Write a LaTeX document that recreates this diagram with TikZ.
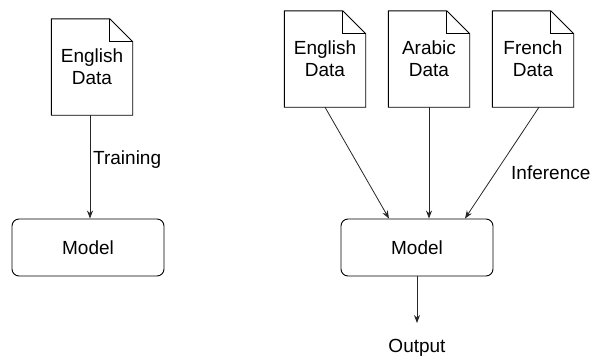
\documentclass[tikz,border=0pt]{standalone}
\usepackage{fontspec}
\setmainfont{Liberation Sans}
\usetikzlibrary{arrows.meta,calc}
\tikzset{
  doc/.style={minimum width=81pt, minimum height=96pt, inner sep=0pt, align=center, font=\fontsize{19pt}{22pt}\selectfont},
  modelbox/.style={draw, rounded corners=7pt, minimum width=152pt, minimum height=57pt, inner sep=0pt, font=\fontsize{19pt}{22pt}\selectfont, line width=0.9pt},
  lbl/.style={inner sep=0pt, font=\fontsize{19pt}{22pt}\selectfont},
  arr/.style={draw=black!85, line width=0.8pt, -{Stealth[length=8pt,width=6pt]}},
  docline/.style={line width=0.9pt, line join=miter},
}
\newcommand{\docoutline}[1]{%
  \draw[docline] ($(#1.north east)+(-23pt,0)$) -- (#1.north west) -- (#1.south west) -- (#1.south east) -- ($(#1.north east)+(0,-23pt)$) -- cycle;
  \draw[docline] ($(#1.north east)+(-23pt,0)$) -- ($(#1.north east)+(-23pt,-23pt)$) -- ($(#1.north east)+(0,-23pt)$);
}
\begin{document}
\begin{tikzpicture}[x=1pt,y=-1pt]
\useasboundingbox (0,0) rectangle (590,356);
% left part
\node[doc] (ld) at (92,67) {English\\Data};
\node[modelbox] (lm) at (88,247.5) {Model};
\node[lbl, anchor=west] (train) at (93,160) {Training};
\docoutline{ld}
\draw[arr] (ld.south -| 90,0) -- (lm.north -| 90,0);
% right part
\node[doc] (ed) at (325,59) {English\\Data};
\node[doc] (ad) at (429,59) {Arabic\\Data};
\node[doc] (fd) at (533,59) {French\\Data};
\docoutline{ed}
\docoutline{ad}
\docoutline{fd}
\node[modelbox] (rm) at (417,247.5) {Model};
\node[lbl, anchor=west] (inf) at (511,173) {Inference};
\node[lbl] (out) at (417,348) {Output};
\coordinate (oe) at (417,323);
\draw[arr] (ed.south) -- ($(rm.north)+(-28,0)$);
\draw[arr] (ad.south) -- (ad.south |- rm.north);
\draw[arr] ($(fd.south)+(6,0)$) -- ($(rm.north)+(48,0)$);
\draw[arr] (rm.south) -- (oe);
\end{tikzpicture}
\end{document}
